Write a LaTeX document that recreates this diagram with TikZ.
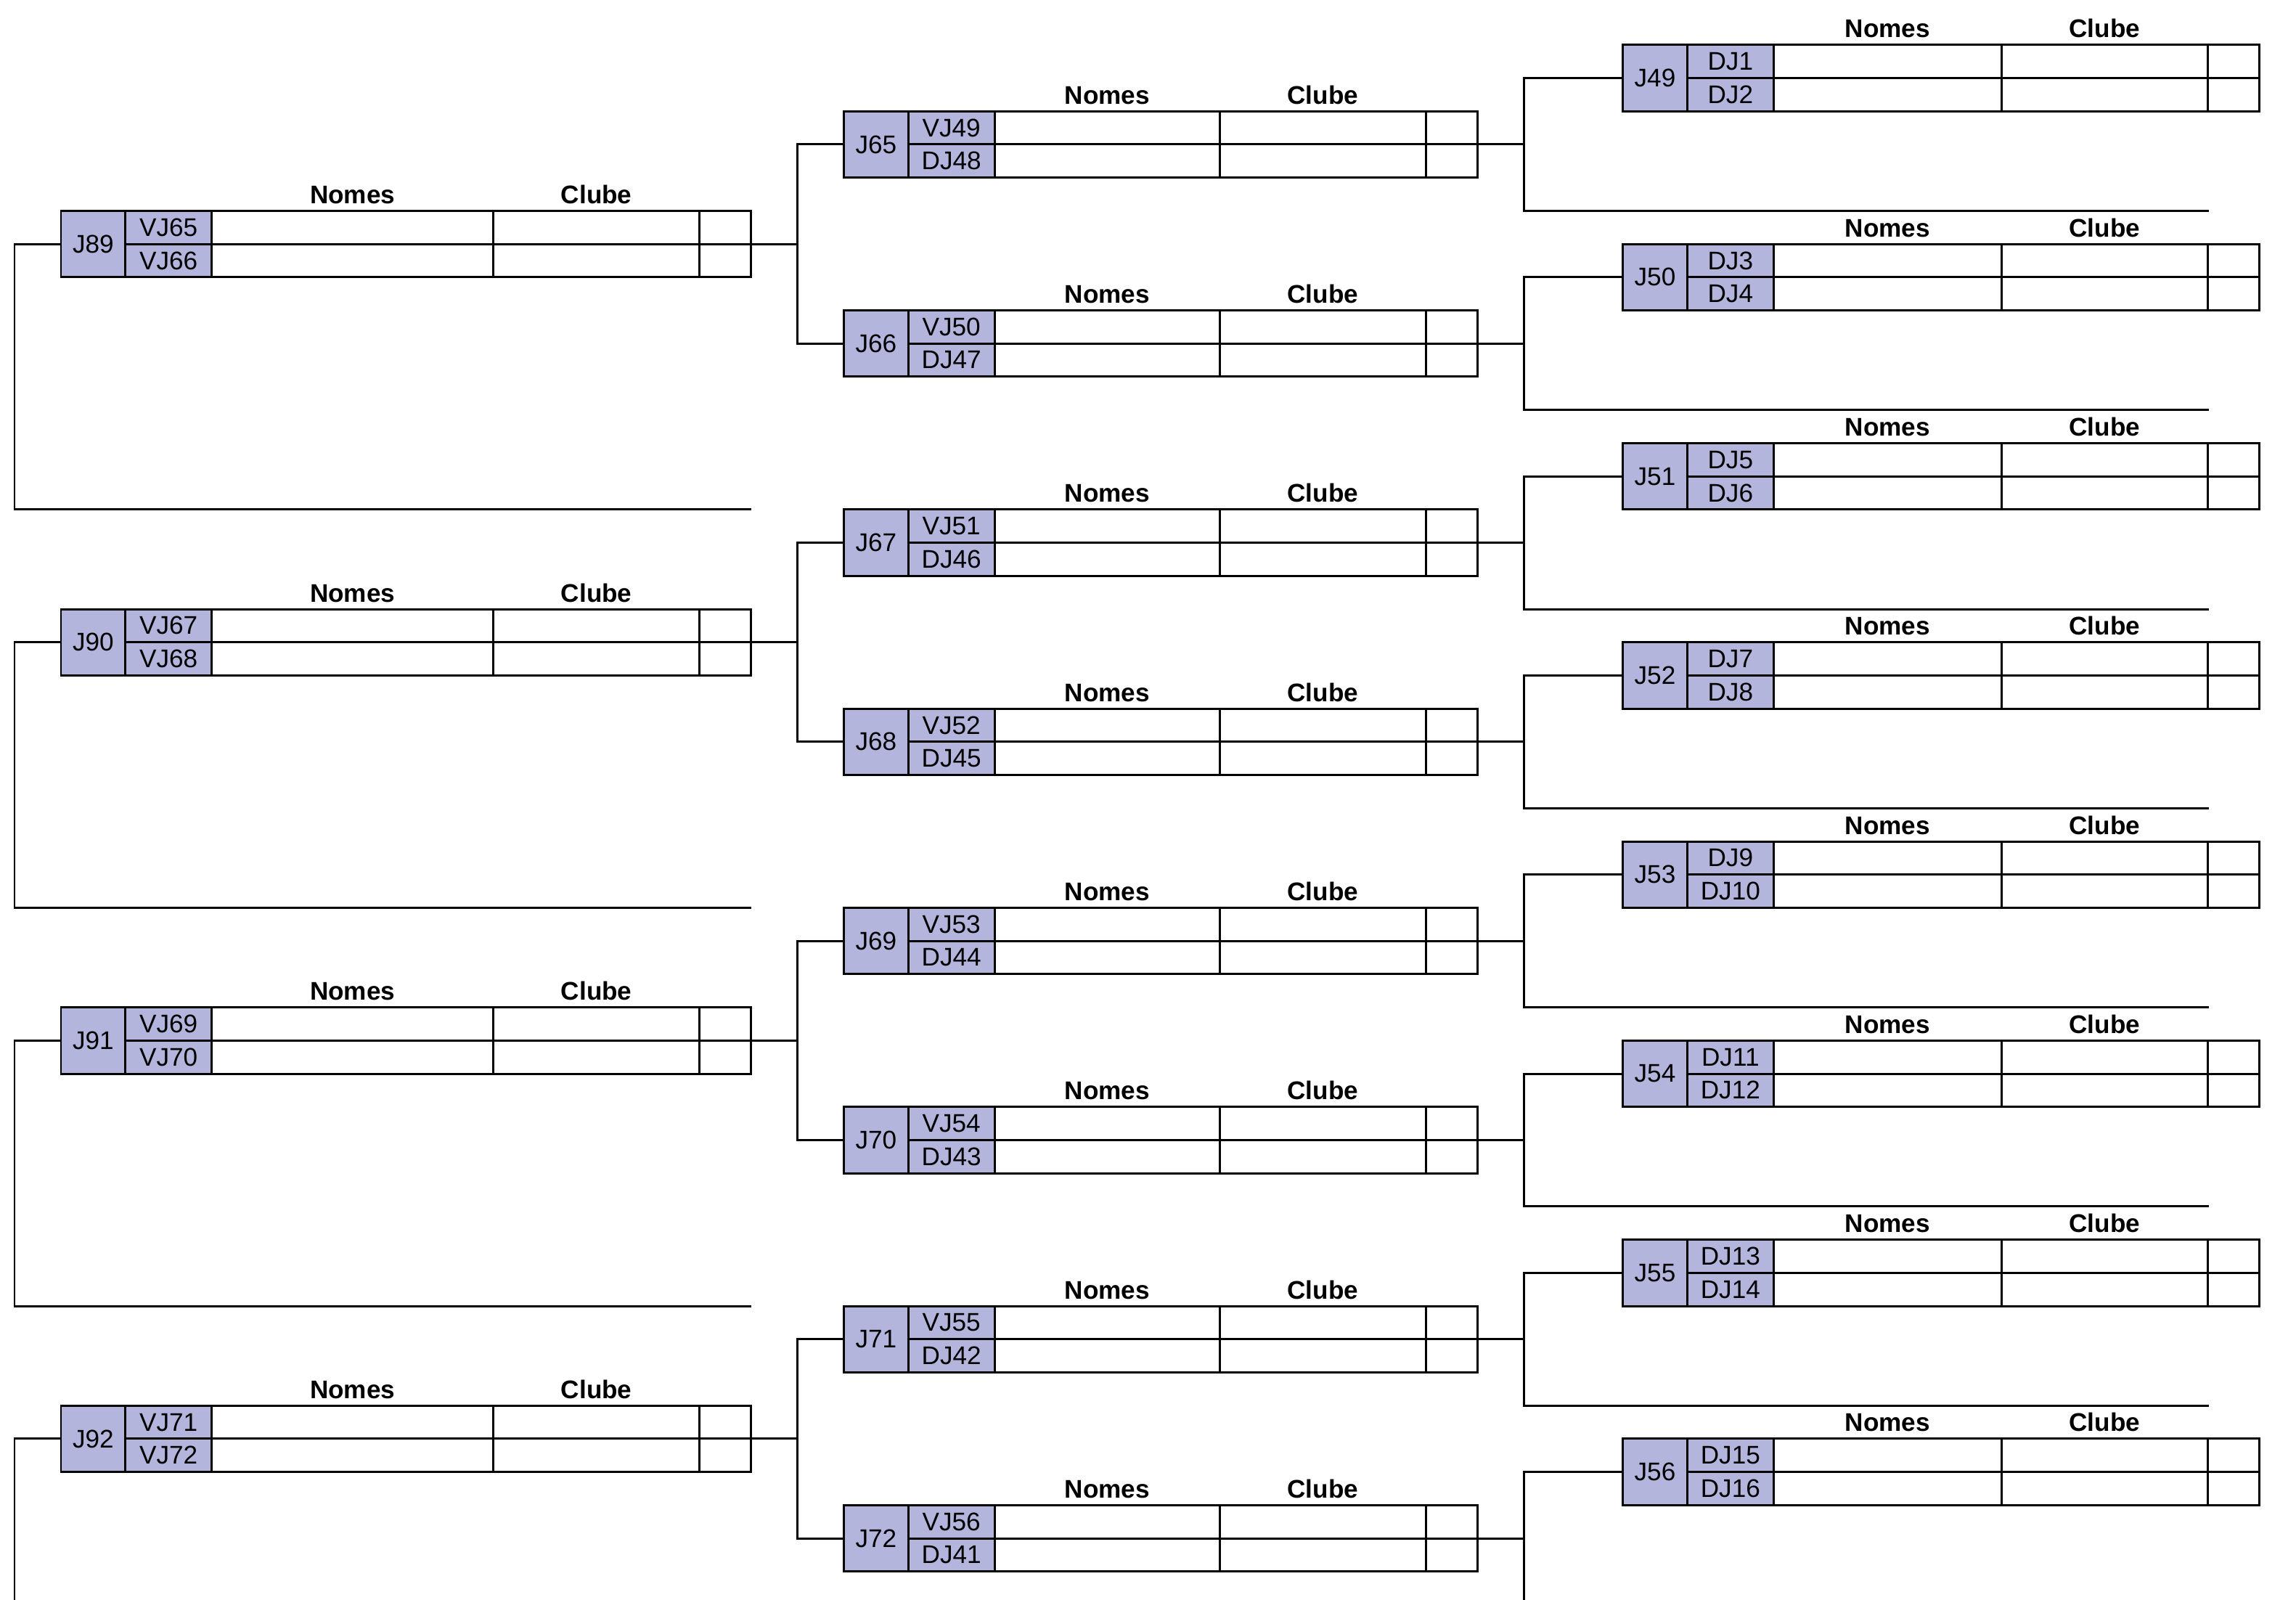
\documentclass[tikz,border=0pt]{standalone}
\usepackage{fontspec}
\setmainfont{Liberation Sans}
\definecolor{lilas}{RGB}{179,181,221}

% one game: x, y, width of the names cell, game number, top and bottom entries
\newcommand{\partida}[6]{%
  \node[jogo, anchor=west] (J#4) at (#1,#2) {J#4};
  \node[lado, anchor=south west] (J#4a) at (J#4.east) {#5};
  \node[lado, anchor=north west] (J#4b) at (J#4.east) {#6};
  \node[celula, minimum width=#3, anchor=south west] (J#4na) at (J#4a.south east) {};
  \node[celula, minimum width=#3, anchor=north west] (J#4nb) at (J#4b.north east) {};
  \node[celula, minimum width=28.4mm, anchor=south west] (J#4ca) at (J#4na.south east) {};
  \node[celula, minimum width=28.4mm, anchor=north west] (J#4cb) at (J#4nb.north east) {};
  \node[celula, minimum width=7.1mm, anchor=south west] (J#4pa) at (J#4ca.south east) {};
  \node[celula, minimum width=7.1mm, anchor=north west] (J#4pb) at (J#4cb.north east) {};
  \node[titulo] (J#4tn) at ([yshift=1mm]J#4na.north) {Nomes};
  \node[titulo] (J#4tc) at ([yshift=1mm]J#4ca.north) {Clube};
}

\begin{document}
\begin{tikzpicture}[
  x=1mm, y=-1mm,
  font=\fontsize{10}{12}\selectfont,
  caixa/.style={rectangle, draw, line width=0.85pt, inner sep=0pt, outer sep=0pt},
  jogo/.style={caixa, fill=lilas, minimum width=8.87mm, minimum height=9.14mm},
  lado/.style={caixa, fill=lilas, minimum width=11.9mm, minimum height=4.57mm},
  celula/.style={caixa, minimum height=4.57mm},
  titulo/.style={anchor=base, font=\fontsize{10}{12}\selectfont\bfseries},
  linha/.style={line width=0.85pt}
]
  \useasboundingbox (0,0) rectangle (316.3,220.3);
  \clip (0,0) rectangle (316.3,220.3);

  % Third column
  \foreach \i in {0,...,7}{
    \pgfmathtruncatemacro{\jn}{49+\i}
    \pgfmathtruncatemacro{\da}{2*\i+1}
    \pgfmathtruncatemacro{\db}{2*\i+2}
    \pgfmathsetmacro{\yy}{10.75+27.43*\i}
    \partida{223.56}{\yy}{31.4mm}{\jn}{DJ\da}{DJ\db}
    \coordinate (K\jn) at (304.26, \yy+18.29);
  }

  % Second column
  \foreach \i in {0,...,7}{
    \pgfmathtruncatemacro{\jn}{65+\i}
    \pgfmathtruncatemacro{\va}{49+\i}
    \pgfmathtruncatemacro{\db}{48-\i}
    \pgfmathsetmacro{\yy}{19.89+27.43*\i}
    \partida{116.25}{\yy}{31mm}{\jn}{VJ\va}{DJ\db}
    \coordinate (M\jn) at (209.9, \yy);
    \draw[linha] (J\va.west) -| (M\jn) |- (K\va);
    \draw[linha] (J\jn pb.north east) -- (M\jn);
  }

  % First column
  \foreach \i in {0,...,3}{
    \pgfmathtruncatemacro{\jn}{89+\i}
    \pgfmathtruncatemacro{\va}{65+2*\i}
    \pgfmathtruncatemacro{\vb}{66+2*\i}
    \pgfmathsetmacro{\yy}{33.61+54.86*\i}
    \partida{8.4}{\yy}{38.8mm}{\jn}{VJ\va}{VJ\vb}
    \coordinate (E\jn) at (2.0, \yy);
    \coordinate (F\jn) at (103.47, \yy+36.57);
    \coordinate (M\jn) at (109.8, \yy);
    \draw[linha] (J\jn.west) -- (E\jn) |- (F\jn);
    \draw[linha] (J\va.west) -| (M\jn) |- (J\vb.west);
    \draw[linha] (J\jn pb.north east) -- (M\jn);
  }
\end{tikzpicture}
\end{document}
